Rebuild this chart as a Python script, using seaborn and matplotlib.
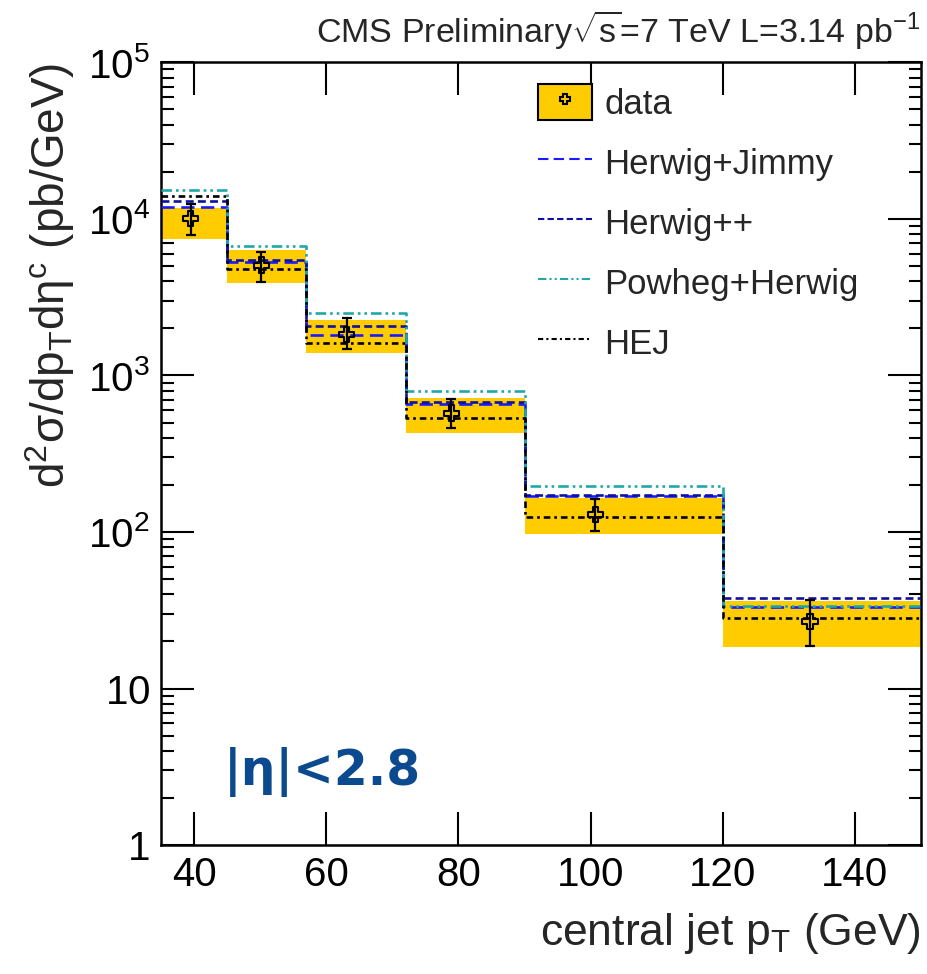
import numpy as np
import pandas as pd
import matplotlib
matplotlib.use("Agg")
import matplotlib.pyplot as plt
import matplotlib.ticker as mticker
import seaborn as sns
from matplotlib.lines import Line2D
from matplotlib.patches import Patch
from matplotlib.legend_handler import HandlerTuple

# ---- data ----
bin_edges = [35, 45, 57, 72, 90, 120, 150]
data_x = [39.5, 50.2, 63.1, 78.9, 100.7, 133.2]
data_y = [10000, 5070, 1830, 575, 130, 26.7]
data_err_up = [12400, 6170, 2320, 711, 162, 36.8]
data_err_lo = [7870, 3970, 1470, 462, 101, 18.6]
band_hi = [11750, 6330, 2265, 716, 166, 36.4]
band_lo = [7490, 3870, 1400, 429, 96.4, 18.4]
herwig_jimmy = [11980, 5280, 1815, 656, 169, 33.3]
herwig_pp = [12970, 5460, 2070, 676, 173, 37.7]
powheg_herwig = [15200, 6730, 2494, 798, 196, 33.8]
hej = [14000, 4780, 1606, 535, 125, 28.3]

series_names = ["Herwig+Jimmy", "Herwig++", "Powheg+Herwig", "HEJ"]
series_vals = [herwig_jimmy, herwig_pp, powheg_herwig, hej]
series_colors = ["#1a1aff", "#1010a0", "#20a8a8", "#000000"]
series_dashes = [(0, (5, 2.5)), (0, (3, 1.6)), (0, (4, 1.5, 1, 1.5, 1, 1.5)), (0, (2.5, 1.5, 1, 1.5))]

x_ticks = [40, 60, 80, 100, 120, 140]
y_ticks = [1, 10, 100, 1000, 10000, 100000]
y_ticklabels = [r"$1$", r"$10$", r"$10^{2}$", r"$10^{3}$", r"$10^{4}$", r"$10^{5}$"]

# ---- style ----
sns.set_style("ticks")
plt.rcParams["font.family"] = ["Liberation Sans", "DejaVu Sans"]
plt.rcParams["mathtext.fontset"] = "custom"
plt.rcParams["mathtext.rm"] = "Liberation Sans"
plt.rcParams["mathtext.it"] = "Liberation Sans:italic"
plt.rcParams["mathtext.bf"] = "Liberation Sans:bold"
plt.rcParams["mathtext.sf"] = "Liberation Sans"
plt.rcParams["mathtext.default"] = "regular"

fig = plt.figure(figsize=(9.28, 9.74), dpi=100)
ax = fig.add_axes([0.1735, 0.1324, 0.819, 0.8036])

band_color = "#ffcc00"
ax.stairs(band_hi, bin_edges, baseline=band_lo, fill=True, color=band_color, lw=0, zorder=1)

for name, vals, col, ds in zip(series_names, series_vals, series_colors, series_dashes):
    df = pd.DataFrame({"x": bin_edges, "y": list(vals) + [vals[-1]]})
    sns.lineplot(data=df, x="x", y="y", ax=ax, color=col, lw=1.9,
                 drawstyle="steps-post", legend=False, zorder=3,
                 linestyle=ds)
    ax.lines[-1].set_linestyle(ds)

yerr = [np.array(data_y) - np.array(data_err_lo), np.array(data_err_up) - np.array(data_y)]
ax.errorbar(data_x, data_y, yerr=yerr, fmt="none", ecolor="black", elinewidth=1.6,
            capsize=3.5, capthick=1.6, zorder=4)
dfd = pd.DataFrame({"x": data_x, "y": data_y})
sns.scatterplot(data=dfd, x="x", y="y", ax=ax, marker="P", s=120, facecolor="none",
                edgecolor="black", linewidth=1.5, zorder=5, legend=False)

ax.set_yscale("log")
ax.set_xlim(35, 150)
ax.set_ylim(1, 1e5)
ax.set_xticks(x_ticks)
ax.set_xticklabels([str(t) for t in x_ticks])
ax.xaxis.set_minor_locator(mticker.NullLocator())
ax.yaxis.set_major_locator(mticker.FixedLocator(y_ticks))
ax.yaxis.set_major_formatter(mticker.FixedFormatter(y_ticklabels))
ax.yaxis.set_minor_locator(mticker.LogLocator(base=10, subs=np.arange(2, 10)))
ax.yaxis.set_minor_formatter(mticker.NullFormatter())

ax.tick_params(which="both", direction="in", top=True, right=True, width=1.5,
               labelsize=29, colors="black")
ax.tick_params(which="major", length=24, pad=8)
ax.tick_params(which="minor", length=9)
for sp in ax.spines.values():
    sp.set_linewidth(1.8)
    sp.set_color("black")

ax.set_xlabel(r"central jet p$_T$ (GeV)", fontsize=32, loc="right", labelpad=12)
ax.set_ylabel(r"d$^2\sigma$/dp$_T$d$\eta^c$ (pb/GeV)", fontsize=33, loc="top", labelpad=8)

fig.text(0.992, 0.9466, r"CMS Preliminary$\sqrt{s}$=7 TeV L=3.14 pb$^{-1}$",
         ha="right", va="bottom", fontsize=24.5)

ax.text(0.083, 0.093, "|η|<2.8", transform=ax.transAxes, fontsize=35,
        color="#0b4a8f", fontweight="bold", ha="left", va="center",
        family=["DejaVu Sans"])

handles = [(Patch(facecolor=band_color, edgecolor="black", lw=1.5),
            Line2D([], [], marker="P", color="black", mfc="none", ls="none", ms=7, mew=1.5))]
for col, ds in zip(series_colors, series_dashes):
    handles.append(Line2D([], [], color=col, lw=1.5, linestyle=ds))
labels = ["data"] + series_names
leg = ax.legend(handles, labels, loc="upper left", bbox_to_anchor=(0.478, 0.99),
                frameon=False, fontsize=25, handlelength=1.55, handleheight=1.2,
                handletextpad=0.35, labelspacing=0.68, borderaxespad=0,
                handler_map={tuple: HandlerTuple(ndivide=1)})

fig.savefig("out.png", dpi=100)
